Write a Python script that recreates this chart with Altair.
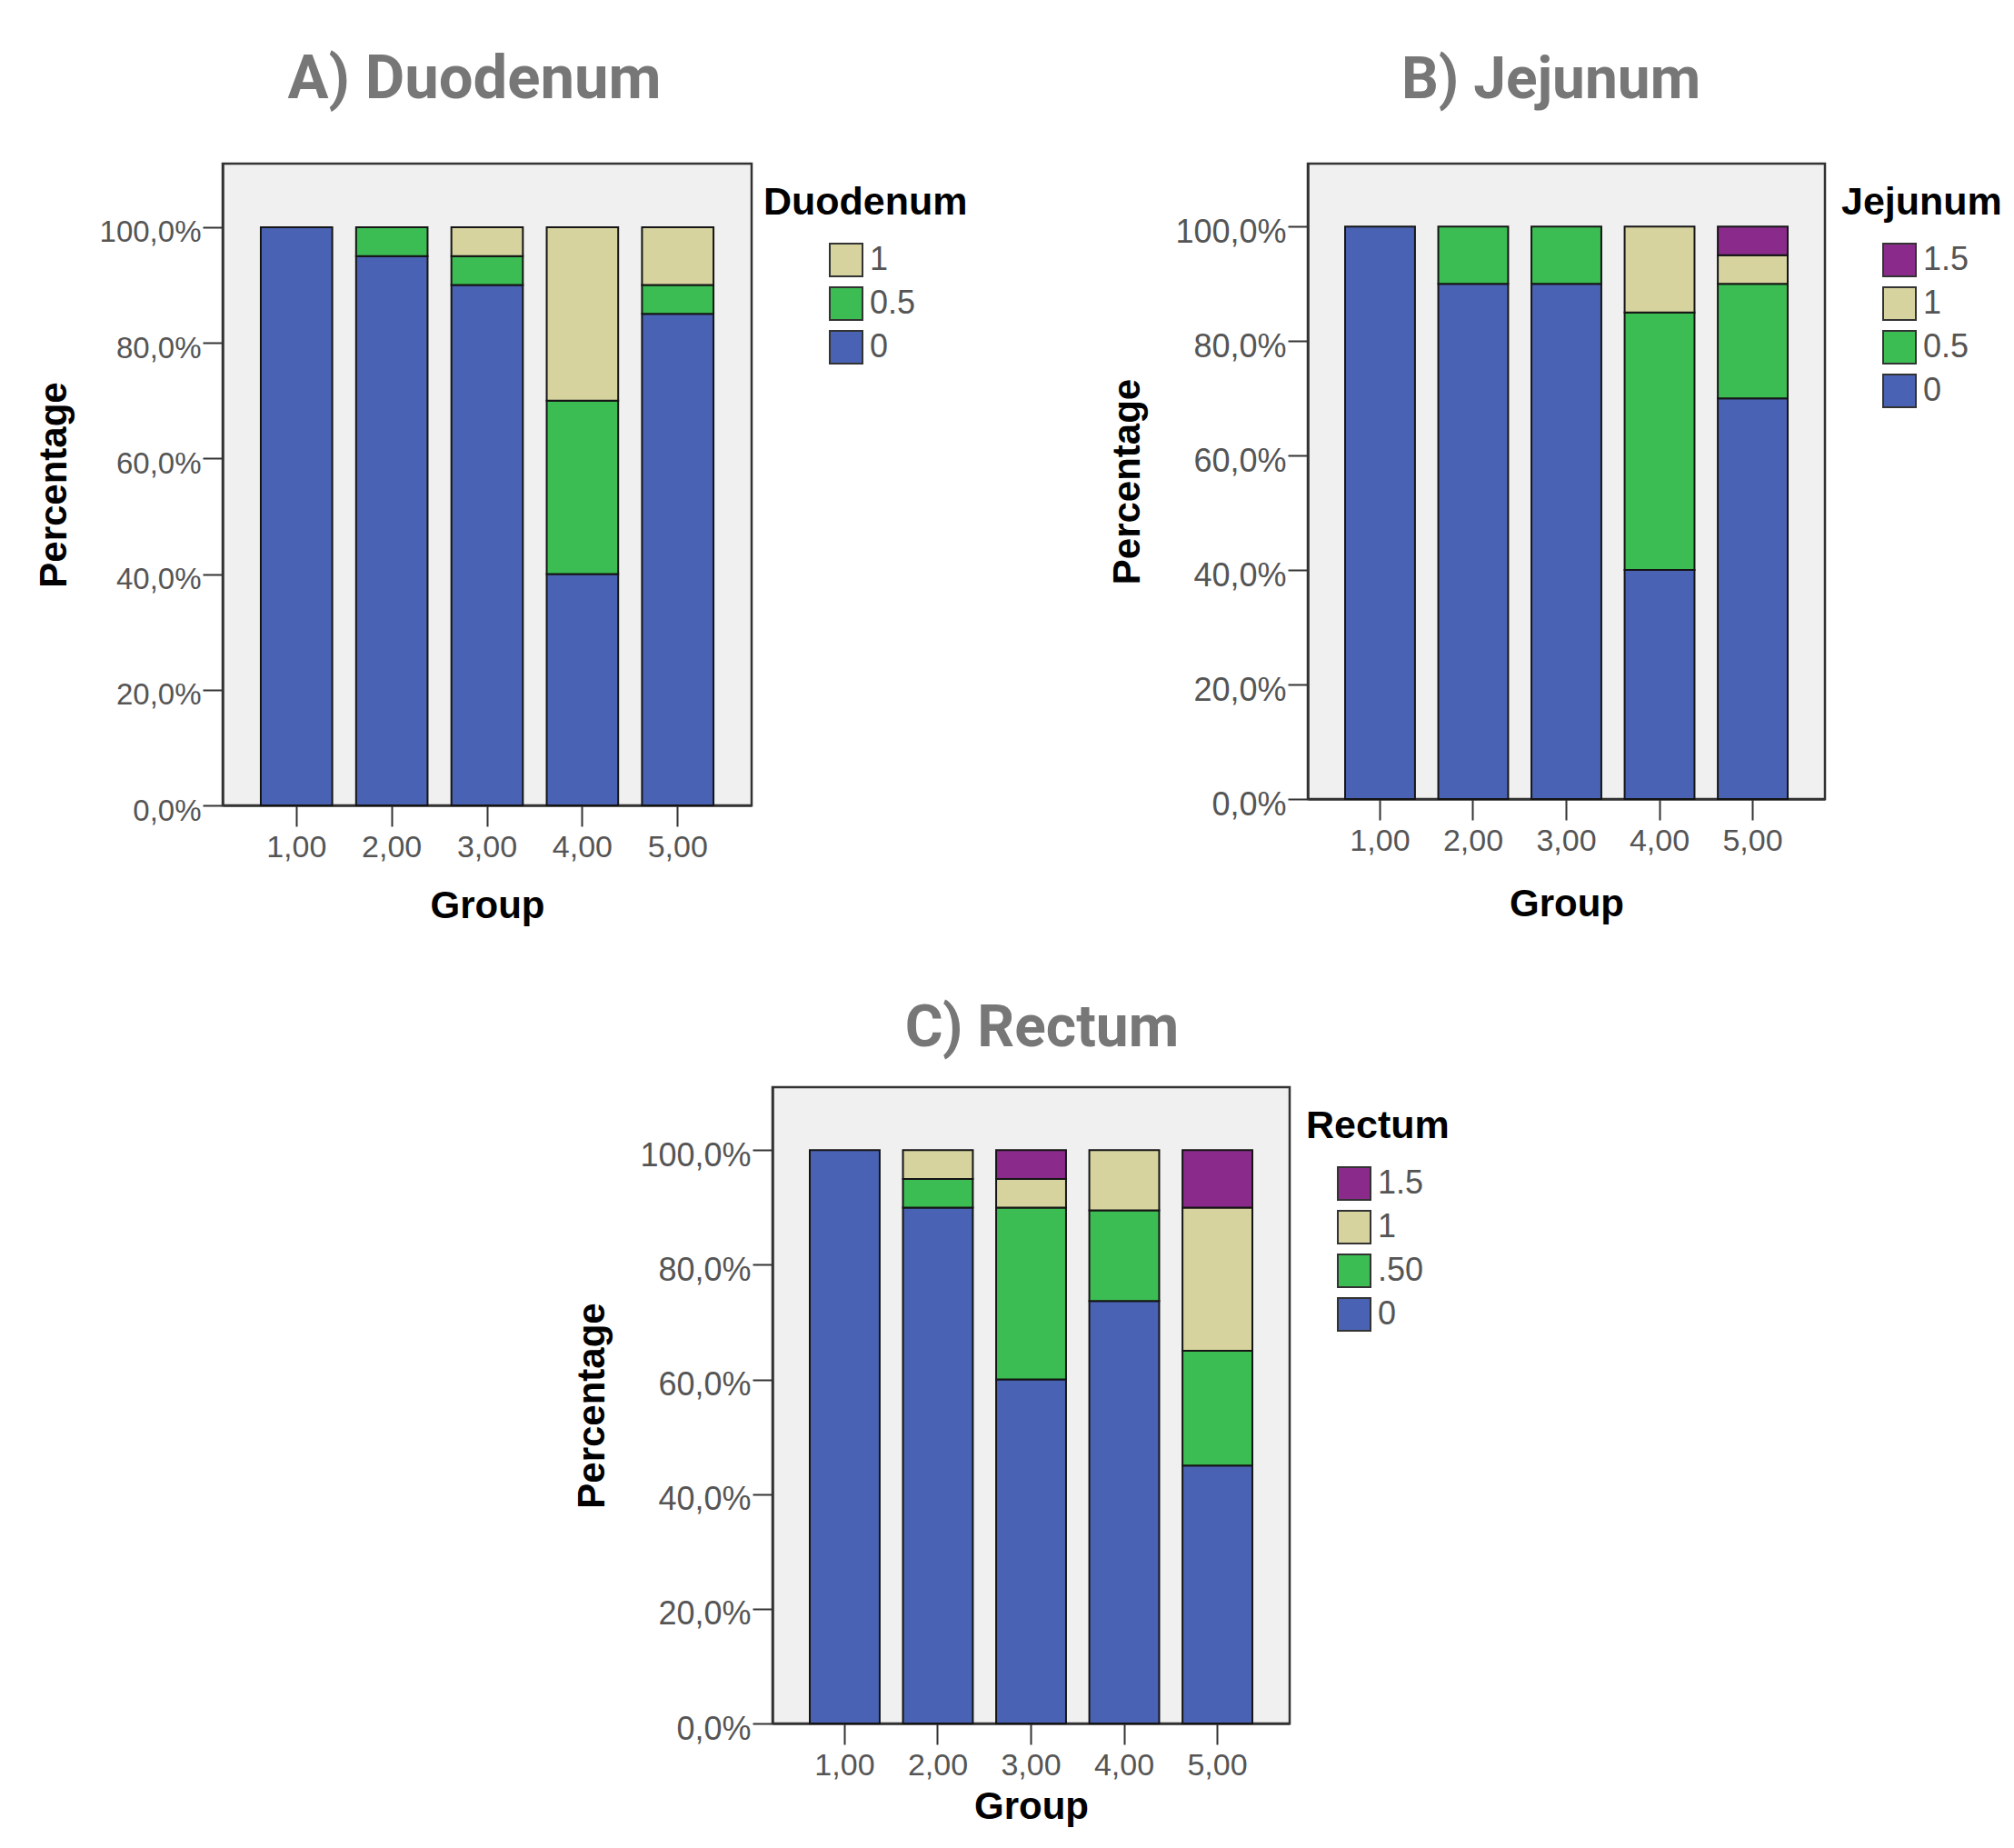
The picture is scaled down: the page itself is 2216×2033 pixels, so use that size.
import altair as alt
import pandas as pd

groups = ["1,00", "2,00", "3,00", "4,00", "5,00"]

# Duodenum (%)
duo_levels = ["0", "0.5", "1"]
duo_0 = [100, 95, 90, 40, 85]
duo_05 = [0, 5, 5, 30, 5]
duo_1 = [0, 0, 5, 30, 10]

# Jejunum (%)
jej_levels = ["0", "0.5", "1", "1.5"]
jej_0 = [100, 90, 90, 40, 70]
jej_05 = [0, 10, 10, 45, 20]
jej_1 = [0, 0, 0, 15, 5]
jej_15 = [0, 0, 0, 0, 5]

# Rectum (%)
rec_levels = ["0", ".50", "1", "1.5"]
rec_0 = [100, 90, 60, 73.7, 45]
rec_05 = [0, 5, 30, 15.8, 20]
rec_1 = [0, 5, 5, 10.5, 25]
rec_15 = [0, 0, 5, 0, 10]

yticks = [0, 20, 40, 60, 80, 100]

BLUE, GREEN, BEIGE, PURPLE = "#4a62b3", "#3cbd53", "#d6d39f", "#8a2b8b"
level_colors = [BLUE, GREEN, BEIGE, PURPLE]


def long_df(levels, series):
    rows = []
    for rank, (lev, vals) in enumerate(zip(levels, series)):
        for g, v in zip(groups, vals):
            if v > 0:
                rows.append({"Group": g, "level": lev, "rank": rank, "pct": v})
    return pd.DataFrame(rows)


def panel(df, name, title, levels, w, h, title_size, title_dx, title_off, ylab_size,
          ytitle_x, xtitle_y, leg_x, sym_off):
    dom = list(reversed(levels))
    rng = list(reversed(level_colors[:len(levels)]))
    return alt.Chart(df).mark_bar(stroke="#151515", strokeWidth=2).encode(
        x=alt.X("Group:N", sort=groups,
                scale=alt.Scale(paddingInner=0.25, paddingOuter=0.4),
                axis=alt.Axis(title="Group", labelAngle=0, labelFont="Liberation Sans",
                              labelFontSize=34, labelColor="#555555", labelPadding=6,
                              tickSize=23, tickColor="#333333", tickWidth=2,
                              domainColor="#333333", domainWidth=2.5,
                              titleFont="Liberation Sans", titleFontSize=42,
                              titleFontWeight="bold", titleColor="#000000",
                              titleX=w / 2, titleY=xtitle_y, titleBaseline="alphabetic",
                              titleAlign="center")),
        y=alt.Y("pct:Q", stack="zero",
                scale=alt.Scale(domain=[0, 111], nice=False),
                axis=alt.Axis(title="Percentage", values=yticks,
                              labelExpr="replace(format(datum.value, '.1f'), '.', ',') + '%'",
                              labelFont="Liberation Sans", labelFontSize=ylab_size,
                              labelColor="#555555", labelPadding=2, labelOffset=6,
                              tickSize=22, tickColor="#333333", tickWidth=2,
                              domainColor="#333333", domainWidth=2.5, grid=False,
                              titleFont="Liberation Sans", titleFontSize=42,
                              titleFontWeight="bold", titleColor="#000000",
                              titleX=ytitle_x, titleY=h / 2, titleAngle=270,
                              titleBaseline="alphabetic", titleAlign="center")),
        color=alt.Color("level:N", scale=alt.Scale(domain=dom, range=rng),
                        legend=alt.Legend(title=name, orient="none", legendX=leg_x,
                                          legendY=22, padding=0, titleLimit=600,
                                          titleFont="Liberation Sans", titleFontSize=43,
                                          titleFontWeight="bold", titleColor="#000000",
                                          titlePadding=22, labelFont="Liberation Sans",
                                          labelFontSize=36, labelColor="#555555",
                                          labelOffset=7, symbolType="square",
                                          symbolSize=1296, symbolStrokeColor="#333333",
                                          symbolStrokeWidth=2, symbolOffset=sym_off,
                                          rowPadding=4, symbolOpacity=1)),
        order=alt.Order("rank:Q", sort="ascending"),
    ).properties(
        width=w, height=h,
        title=alt.TitleParams(text=title, font="Roboto", fontSize=title_size,
                              fontWeight="bold", color="#777777", anchor="middle",
                              frame="group", dx=title_dx, offset=title_off,
                              baseline="alphabetic"),
        view=alt.ViewBackground(fill="#f0f0f0", stroke="#333333", strokeWidth=2.5),
    )


dfA = long_df(duo_levels, [duo_0, duo_05, duo_1])
dfB = long_df(jej_levels, [jej_0, jej_05, jej_1, jej_15])
dfC = long_df(rec_levels, [rec_0, rec_05, rec_1, rec_15])

A = panel(dfA, "Duodenum", "A) Duodenum", duo_levels, 582, 706, 67, -14, 5, 33, -173, 123, 595, 72)
B = panel(dfB, "Jejunum", "B) Jejunum", jej_levels, 569, 699, 64, -17, 8, 36, -186, 128, 587, 45)
C = panel(dfC, "Rectum", "C) Rectum", rec_levels, 569, 700, 64, 12, -19, 36, -186, 104, 587, 34)

spacer = alt.Chart(pd.DataFrame({"s": [0]})).mark_point(opacity=0).encode(
    x=alt.X("s:Q", axis=None), y=alt.Y("s:Q", axis=None)
).properties(width=383, height=10,
             view=alt.ViewBackground(fillOpacity=0, strokeOpacity=0))

top = alt.hconcat(A, B, spacing=150).resolve_scale(
    x="independent", y="independent", color="independent").resolve_legend(color="independent")
bottom = alt.hconcat(spacer, C, spacing=0).resolve_scale(
    x="independent", y="independent", color="independent").resolve_legend(color="independent")

chart = alt.vconcat(top, bottom, spacing=79).resolve_scale(
    x="independent", y="independent", color="independent").resolve_legend(
    color="independent").properties(
    padding={"left": 28, "top": 44, "right": 0, "bottom": 0}
).configure(font="Liberation Sans")

chart.save("out.html", embed_options={"renderer": "svg", "actions": False})
